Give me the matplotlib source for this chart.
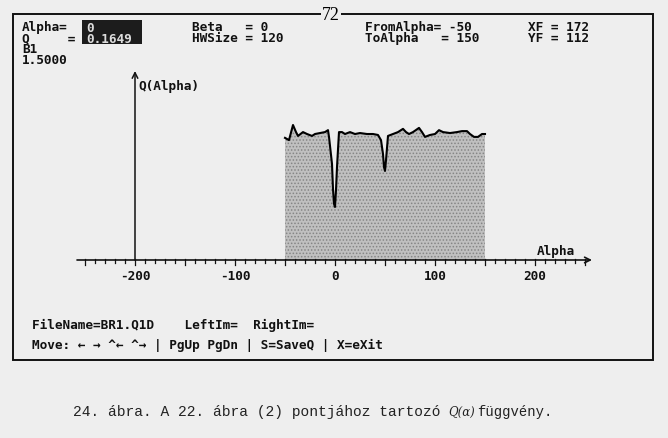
import matplotlib.pyplot as plt
from matplotlib.patches import Rectangle

W, H = 668, 439
BG = '#eeeeee'
INK = '#111111'
SCREEN_FONT = dict(family='DejaVu Sans Mono', weight='bold', size=9.2)

# Q(Alpha) curve
alpha = [-50, -46, -42, -39, -37, -32, -28, -23, -20, -15, -10, -7, -6, -3, -2,
         -1, 0, 1, 2, 4, 7, 10, 15, 20, 25, 32, 38, 43, 46, 48,
         49, 50, 51, 53, 58, 63, 68, 71, 74, 78, 84, 87, 90, 95, 100,
         104, 108, 115, 122, 127, 132, 135, 139, 143, 147, 150]
q = [0.380, 0.373, 0.420, 0.398, 0.386, 0.398, 0.392, 0.386, 0.392, 0.395, 0.398, 0.404, 0.383, 0.299, 0.221,
     0.175, 0.1649, 0.218, 0.289, 0.398, 0.398, 0.392, 0.398, 0.392, 0.395, 0.392, 0.392, 0.389, 0.373, 0.330,
     0.289, 0.277, 0.311, 0.386, 0.392, 0.398, 0.408, 0.398, 0.392, 0.398, 0.411, 0.398, 0.383, 0.389, 0.392,
     0.404, 0.398, 0.395, 0.398, 0.401, 0.401, 0.392, 0.383, 0.383, 0.392, 0.392]

tick_values = [-200, -100, 0, 100, 200]
tick_labels = ['-200', '-100', '0', '100', '200']

header_left = ['Alpha=', 'Q     =', 'B1', '1.5000']
header_box = ['0', '0.1649']
header_mid = ['Beta   = 0', 'HWSize = 120']
header_range = ['FromAlpha= -50', 'ToAlpha   = 150']
header_right = ['XF = 172', 'YF = 112']
footer = ['FileName=BR1.Q1D    LeftIm=  RightIm=',
          'Move: \u2190 \u2192 ^\u2190 ^\u2192 | PgUp PgDn | S=SaveQ | X=eXit']

# pixels -> Q units on screen
K = 0.1649 / 53


def fx(x):
    return x / W


def fy(y):
    return 1 - y / H


def block(x, y, lines, color=INK):
    fig.text(fx(x), fy(y), '\n'.join(lines), va='center', ha='left', color=color,
             linespacing=0.78, **SCREEN_FONT)


fig = plt.figure(figsize=(W / 100, H / 100), dpi=100, facecolor=BG)

# screen frame
fig.patches.append(Rectangle((fx(13), fy(361)), fx(653) - fx(13), fy(15) - fy(361),
                             transform=fig.transFigure, fill=False, lw=1.4, ec=INK))
fig.text(fx(331), fy(15), '72', family='Liberation Serif', size=13, ha='center', va='center',
         bbox=dict(fc=BG, ec='none', pad=0.5))

# highlighted field
fig.patches.append(Rectangle((fx(82), fy(45)), fx(142) - fx(82), fy(21) - fy(45),
                             transform=fig.transFigure, fc='#1c1c1c', ec='none'))

block(22, 44, header_left)
block(86, 34, header_box, color='#dddddd')
block(192, 33, header_mid)
block(365, 33, header_range)
block(528, 33, header_right)
for i, s in enumerate(footer):
    fig.text(fx(32), fy(325 + 20 * i), s, va='center', color=INK, **SCREEN_FONT)

# plot area: 1 px per Alpha unit, Q=0 at pixel row 261
ax = fig.add_axes([fx(75), fy(290), fx(595) - fx(75), fy(60) - fy(290)])
ax.set_xlim(-260, 260)
ax.set_ylim(-29 * K, 201 * K)
ax.axis('off')
ax.patch.set_visible(False)

plt.rcParams['hatch.linewidth'] = 0.7
ax.fill_between(alpha, 0, q, facecolor='#c0c0c0', edgecolor='#858585', hatch='.....', lw=0)
ax.plot(alpha, q, color='black', lw=1.5)

# axes with arrows
ax.annotate('', xy=(257, 0), xytext=(-258, 0),
            arrowprops=dict(arrowstyle='->', lw=1.2, color=INK, shrinkA=0, shrinkB=0))
ax.annotate('', xy=(-200, 189 * K), xytext=(-200, 0),
            arrowprops=dict(arrowstyle='->', lw=1.1, color=INK, shrinkA=0, shrinkB=0))

for v in range(-250, 251, 10):
    ln = 5 if v % 50 == 0 else 3
    ax.plot([v, v], [K, -ln * K], color=INK, lw=0.9)

for v, s in zip(tick_values, tick_labels):
    ax.text(v, -15 * K, s, ha='center', va='center', color=INK, **SCREEN_FONT)

ax.text(202, 9 * K, 'Alpha', va='center', color=INK, **SCREEN_FONT)
ax.text(-197, 175 * K, 'Q(Alpha)', va='center', color=INK, **SCREEN_FONT)

# caption
fig.text(fx(73), fy(412), '24. ábra. A 22. ábra (2) pontjához tartozó',
         family='Liberation Mono', size=10.5, va='center', color='#222222')
fig.text(fx(448), fy(412), 'Q(\u03b1)', family='DejaVu Serif', style='italic',
         size=8.5, va='center', color='#222222')
fig.text(fx(477), fy(412), 'függvény.', family='Liberation Mono', size=10,
         va='center', color='#222222')

plt.savefig('out.png', dpi=100, facecolor=BG)
